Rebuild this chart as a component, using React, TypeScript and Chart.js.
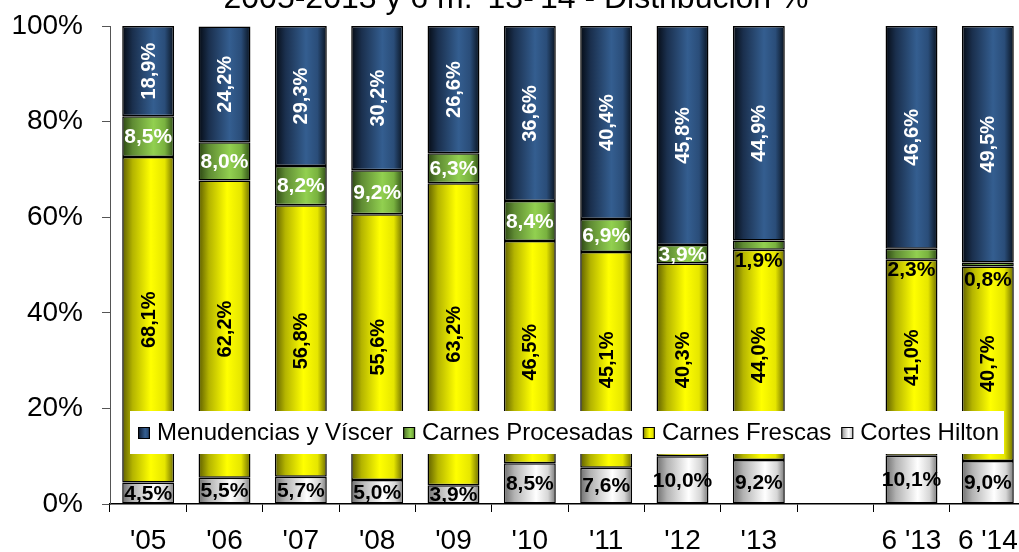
import React, { useEffect, useRef } from "react";
import { Chart, registerables } from "chart.js";

Chart.register(...registerables);

const categories = ["'05", "'06", "'07", "'08", "'09", "'10", "'11", "'12", "'13", "", "6 '13", "6 '14"];
const cortesHilton = [4.5, 5.5, 5.7, 5.0, 3.9, 8.5, 7.6, 10.0, 9.2, null, 10.1, 9.0];
const carnesFrescas = [68.1, 62.2, 56.8, 55.6, 63.2, 46.5, 45.1, 40.3, 44.0, null, 41.0, 40.7];
const carnesProcesadas = [8.5, 8.0, 8.2, 9.2, 6.3, 8.4, 6.9, 3.9, 1.9, null, 2.3, 0.8];
const menudencias = [18.9, 24.2, 29.3, 30.2, 26.6, 36.6, 40.4, 45.8, 44.9, null, 46.6, 49.5];
const legendNames = ["Menudencias y Víscer", "Carnes Procesadas", "Carnes Frescas", "Cortes Hilton"];
const yTickValues = [0, 20, 40, 60, 80, 100];
const titleText = "2005-2013 y 6 m. '13-'14 - Distribución %";

const FONT = '"Liberation Sans", Arial, sans-serif';
const BAR_PCT = 0.68;

type Stops = [number, string][];
const navyStops: Stops = [[0, "#050b14"], [0.2, "#1a2f4d"], [0.6, "#345e90"], [0.82, "#2a4d79"], [1, "#08121f"]];
const greenStops: Stops = [[0, "#2c4612"], [0.2, "#5f8b33"], [0.6, "#92d050"], [0.82, "#79b23f"], [1, "#2e4c16"]];
const yellowStops: Stops = [[0, "#5e5e00"], [0.2, "#b4b400"], [0.55, "#ffff00"], [0.82, "#e6e600"], [1, "#6a6a00"]];
const greyStops: Stops = [[0, "#6e6e6e"], [0.2, "#b2b2b2"], [0.62, "#ffffff"], [0.85, "#d6d6d6"], [1, "#777777"]];

function makeGrad(ctx: CanvasRenderingContext2D, x0: number, x1: number, stops: Stops) {
  const g = ctx.createLinearGradient(x0, 0, x1, 0);
  stops.forEach(([o, c]) => g.addColorStop(o, c));
  return g;
}

function barFill(stops: Stops) {
  return (c: any) => {
    const chart = c.chart;
    const xs = chart.scales && chart.scales.x;
    if (!xs || !chart.chartArea || c.dataIndex === undefined) return stops[2][1];
    const cx = xs.getPixelForValue(c.dataIndex);
    const hw = ((xs.width / categories.length) * BAR_PCT) / 2;
    return makeGrad(chart.ctx, cx - hw, cx + hw, stops);
  };
}

const fmt = (v: number) => v.toFixed(1).replace(".", ",") + "%";

// dataset index: 0 = Cortes, 1 = Frescas, 2 = Procesadas, 3 = Menudencias
const labelPlugin = {
  id: "segLabels",
  afterDatasetsDraw(chart: any) {
    const ctx = chart.ctx as CanvasRenderingContext2D;
    ctx.save();
    chart.data.datasets.forEach((ds: any, di: number) => {
      const meta = chart.getDatasetMeta(di);
      meta.data.forEach((el: any, i: number) => {
        const v = ds.data[i];
        if (v === null || v === undefined) return;
        const x = el.x;
        const yc = (el.y + el.base) / 2;
        const txt = fmt(v);
        ctx.textAlign = "center";
        ctx.textBaseline = "middle";
        if (di === 3 || di === 1) {
          ctx.font = `bold 20px ${FONT}`;
          ctx.fillStyle = di === 3 ? "#ffffff" : "#000000";
          ctx.save();
          ctx.translate(x + 1, yc);
          ctx.rotate(-Math.PI / 2);
          ctx.fillText(txt, 0, 0);
          ctx.restore();
        } else if (di === 2) {
          ctx.font = `bold 21px ${FONT}`;
          if (v < 3) {
            ctx.fillStyle = "#000000";
            ctx.fillText(txt, x, yc + 16);
          } else {
            ctx.fillStyle = "#ffffff";
            ctx.fillText(txt, x, yc + 1);
          }
        } else {
          ctx.font = `bold 21px ${FONT}`;
          ctx.fillStyle = "#000000";
          ctx.fillText(txt, x, yc + 1);
        }
      });
    });
    ctx.restore();
  },
};

const legendStops = [navyStops, greenStops, yellowStops, greyStops];

const overlayPlugin = {
  id: "overlay",
  afterDraw(chart: any) {
    const ctx = chart.ctx as CanvasRenderingContext2D;
    const area = chart.chartArea;
    ctx.save();
    // title (mostly above the visible page)
    ctx.font = `32px ${FONT}`;
    ctx.fillStyle = "#000";
    ctx.textAlign = "center";
    ctx.textBaseline = "alphabetic";
    ctx.fillText(titleText, 516, 7.5, 597);

    // legend box
    const bx = area.left + 20;
    const by = 411;
    const bw = 874;
    const bh = 43;
    ctx.fillStyle = "#ffffff";
    ctx.fillRect(bx, by, bw, bh);
    ctx.font = `24px ${FONT}`;
    ctx.textAlign = "left";
    ctx.textBaseline = "alphabetic";
    let mx = bx + 8;
    legendNames.forEach((name, i) => {
      ctx.fillStyle = makeGrad(ctx, mx, mx + 12, legendStops[i]);
      ctx.fillRect(mx, 427, 12, 12);
      ctx.strokeStyle = "#000";
      ctx.lineWidth = 1;
      ctx.strokeRect(mx + 0.5, 427.5, 11, 11);
      ctx.fillStyle = "#000";
      const tx = mx + 19;
      ctx.fillText(name, tx, 440);
      mx = tx + ctx.measureText(name).width + 10;
    });
    ctx.restore();
  },
};

export default function App() {
  const ref = useRef<HTMLCanvasElement | null>(null);
  useEffect(() => {
    if (!ref.current) return;
    const common = {
      borderColor: "#000000",
      borderWidth: 1.5,
      borderSkipped: false,
      barPercentage: BAR_PCT,
      categoryPercentage: 1,
    };
    const chart = new Chart(ref.current, {
      type: "bar",
      data: {
        labels: categories,
        datasets: [
          { label: "Cortes Hilton", data: cortesHilton, backgroundColor: barFill(greyStops), ...common },
          { label: "Carnes Frescas", data: carnesFrescas, backgroundColor: barFill(yellowStops), ...common },
          { label: "Carnes Procesadas", data: carnesProcesadas, backgroundColor: barFill(greenStops), ...common },
          { label: "Menudencias y Víscer", data: menudencias, backgroundColor: barFill(navyStops), ...common },
        ] as any,
      },
      options: {
        responsive: false,
        maintainAspectRatio: false,
        animation: false,
        layout: { padding: { top: 26, left: 0, right: 14, bottom: 0 } },
        plugins: {
          legend: { display: false },
          title: { display: false },
          tooltip: { enabled: false },
        },
        scales: {
          x: {
            stacked: true,
            grid: { offset: true, drawOnChartArea: false, tickLength: 8, color: "#000", lineWidth: 1 },
            border: { color: "#000", width: 1.5 },
            ticks: {
              font: { family: FONT, size: 28 },
              color: "#000",
              padding: 12,
              maxRotation: 0,
              autoSkip: false,
            },
            afterFit: (s: any) => {
              s.height = 48;
            },
          },
          y: {
            stacked: true,
            min: 0,
            max: 100,
            grid: { drawOnChartArea: false, tickLength: 8, color: "#555", lineWidth: 1 },
            border: { color: "#555", width: 1 },
            ticks: {
              font: { family: FONT, size: 28 },
              color: "#000",
              padding: 19,
              callback: (v: any) => v + "%",
            },
            afterBuildTicks: (s: any) => {
              s.ticks = yTickValues.map((v) => ({ value: v }));
            },
            afterFit: (s: any) => {
              s.width = 110;
              s.paddingTop = 0;
              s.paddingBottom = 0;
            },
          },
        },
      } as any,
      plugins: [labelPlugin, overlayPlugin],
    });
    return () => chart.destroy();
  }, []);
  return (
    <div
      style={{
        position: "fixed",
        left: 0,
        top: 0,
        width: 1019,
        height: 552,
        overflow: "hidden",
        background: "#fff",
      }}
    >
      <canvas ref={ref} width={1040} height={552} style={{ display: "block" }} />
    </div>
  );
}
